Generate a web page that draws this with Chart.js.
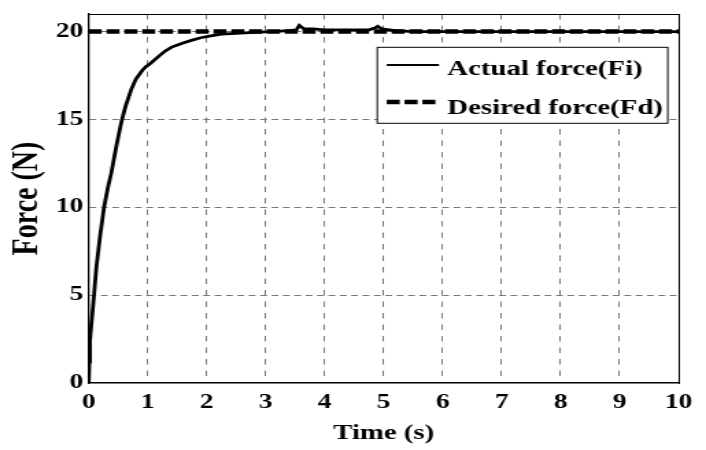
<!DOCTYPE html>
<html>
<head>
<meta charset="utf-8">
<script src="https://cdn.jsdelivr.net/npm/chart.js@4.4.1/dist/chart.umd.min.js"></script>
<style>
  html, body { margin: 0; padding: 0; background: #fff; }
</style>
</head>
<body>
<canvas id="c" width="515" height="450" style="display:block;width:706px;height:450px;"></canvas>
<script>
// ---- data ----
const timeS = [0, 0.01, 0.02, 0.06, 0.09, 0.13, 0.19, 0.26, 0.33, 0.38, 0.47, 0.55, 0.62, 0.72, 0.80, 0.91, 0.97, 1.05, 1.19, 1.30, 1.40, 1.47, 1.60, 1.74, 1.90, 2.07, 2.25, 2.50, 2.80, 3.10, 3.40, 3.52, 3.57, 3.65, 3.80, 4.00, 4.40, 4.75, 4.85, 4.90, 4.97, 5.20, 5.50, 6.00, 7.00, 8.00, 9.00, 10.00];
const actualForce = [0, 1.2, 2.4, 3.9, 5.0, 6.6, 8.3, 10.0, 11.2, 11.9, 13.5, 14.8, 15.7, 16.7, 17.3, 17.8, 18.0, 18.2, 18.6, 18.9, 19.1, 19.2, 19.35, 19.5, 19.65, 19.75, 19.85, 19.9, 19.95, 20.0, 20.05, 20.1, 20.35, 20.15, 20.15, 20.1, 20.1, 20.1, 20.2, 20.3, 20.15, 20.05, 20.0, 20.0, 20.0, 20.0, 20.0, 20.0];
const desiredTime = [0, 10];
const desiredForce = [20, 20];
const seriesNames = ['Actual force(Fi)', 'Desired force(Fd)'];
const xTickValues = [0, 1, 2, 3, 4, 5, 6, 7, 8, 9, 10];
const yTickValues = [0, 5, 10, 15, 20];
const xTitle = 'Time (s)';
const yTitle = 'Force (N)';

Chart.defaults.font.family = '"Liberation Serif", "Times New Roman", Times, serif';
Chart.defaults.font.weight = 'bold';
Chart.defaults.font.size = 20;
Chart.defaults.color = '#000';

const FONT = '"Liberation Serif", "Times New Roman", Times, serif';

const boxLegend = {
  id: 'boxLegend',
  afterDatasetsDraw(chart) {
    const ctx = chart.ctx;
    const bx = 275.2, by = 47.3, bw = 211.9, bh = 76;
    ctx.save();
    ctx.fillStyle = '#fff';
    ctx.fillRect(bx, by, bw, bh);
    ctx.strokeStyle = '#000';
    ctx.lineWidth = 1;
    ctx.strokeRect(bx, by, bw, bh);
    const sampleY = [65, 102];
    const baseY = [75, 114];
    chart.data.datasets.forEach((ds, i) => {
      ctx.save();
      ctx.strokeStyle = ds.borderColor;
      ctx.lineWidth = i === 0 ? 2 : ds.borderWidth;
      ctx.setLineDash(ds.borderDash || []);
      ctx.beginPath();
      ctx.moveTo(282.1, sampleY[i]);
      ctx.lineTo(320.2, sampleY[i]);
      ctx.stroke();
      ctx.restore();
      ctx.fillStyle = '#000';
      ctx.font = 'bold 21px ' + FONT;
      ctx.textAlign = 'left';
      ctx.textBaseline = 'alphabetic';
      ctx.fillText(ds.label, 326.3, baseY[i]);
    });
    ctx.restore();
  }
};

const gridColor = '#777';

const chart = new Chart(document.getElementById('c'), {
  type: 'line',
  data: {
    datasets: [
      {
        label: seriesNames[0],
        data: timeS.map((t, i) => ({x: t, y: actualForce[i]})),
        borderColor: '#000',
        borderWidth: 2.8,
        pointRadius: 0,
        tension: 0,
        fill: false
      },
      {
        label: seriesNames[1],
        data: desiredTime.map((t, i) => ({x: t, y: desiredForce[i]})),
        borderColor: '#000',
        borderWidth: 4.5,
        borderDash: [9.5, 3.5],
        pointRadius: 0,
        tension: 0,
        fill: false
      }
    ]
  },
  options: {
    responsive: false,
    devicePixelRatio: 1,
    animation: false,
    layout: { padding: { left: 0, right: 12, top: 12, bottom: 0 } },
    plugins: { legend: { display: false }, tooltip: { enabled: false } },
    scales: {
      x: {
        type: 'linear',
        position: 'bottom',
        min: 0, max: 10,
        afterBuildTicks: s => { s.ticks = xTickValues.map(v => ({value: v})); },
        afterFit: s => { s.height = 67; },
        ticks: { padding: 10, autoSkip: false, maxRotation: 0, font: { size: 20, lineHeight: 1 }, color: '#000' },
        grid: {
          drawTicks: false,
          lineWidth: 1,
          color: c => (c.tick && (c.tick.value === 0 || c.tick.value === 10)) ? 'rgba(0,0,0,0)' : gridColor
        },
        border: { display: true, color: '#000', width: 1.6, dash: [5.5, 6] },
        title: { display: true, text: xTitle, font: { size: 21, lineHeight: 1 }, padding: { top: 0, bottom: 5.5 }, color: '#000' }
      },
      y: {
        type: 'linear',
        position: 'left',
        min: 0, max: 21,
        afterBuildTicks: s => { s.ticks = yTickValues.map(v => ({value: v})); },
        afterFit: s => { s.width = 64.7; },
        ticks: { padding: 4, autoSkip: false, font: { size: 20, lineHeight: 1 }, color: '#000' },
        grid: {
          drawTicks: false,
          lineWidth: 1,
          color: c => (c.tick && c.tick.value === 0) ? 'rgba(0,0,0,0)' : gridColor
        },
        border: { display: true, color: '#000', width: 1.3, dash: [4.9, 3.4] },
        title: { display: true, text: yTitle, font: { size: 28, lineHeight: 1 }, padding: { top: 5.5, bottom: 0 }, color: '#000' }
      },
      xTop: {
        type: 'linear',
        position: 'top',
        min: 0, max: 10,
        ticks: { display: false },
        grid: { display: false, drawTicks: false },
        border: { display: true, color: '#000', width: 1 }
      },
      yRight: {
        type: 'linear',
        position: 'right',
        min: 0, max: 21,
        ticks: { display: false },
        grid: { display: false, drawTicks: false },
        border: { display: true, color: '#000', width: 1 }
      }
    }
  },
  plugins: [boxLegend]
});
</script>
</body>
</html>
